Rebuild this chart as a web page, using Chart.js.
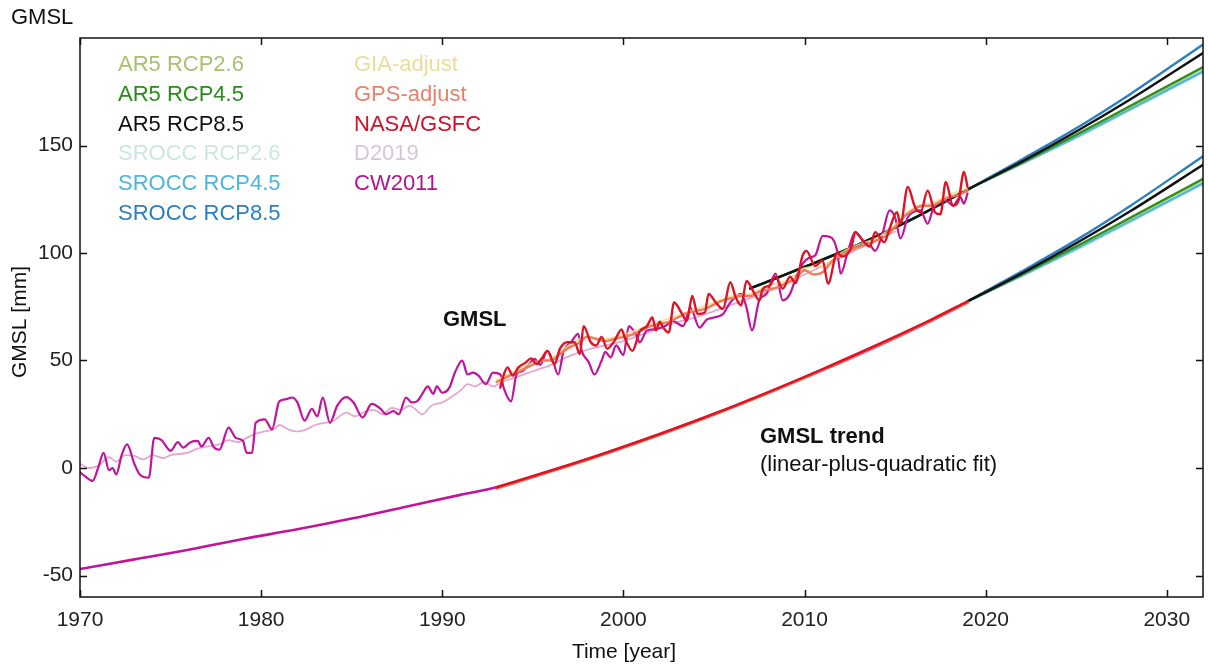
<!DOCTYPE html>
<html><head><meta charset="utf-8">
<script src="https://cdn.jsdelivr.net/npm/chart.js@4/dist/chart.umd.min.js"></script>
<style>html,body{margin:0;padding:0;background:#fff}#wrap{width:1208px;height:665px;position:relative}</style>
</head><body><div id="wrap"><canvas id="c" width="1208" height="665"></canvas></div>
<script>
// ---- tick values ----
const xTicks = [1970, 1980, 1990, 2000, 2010, 2020, 2030];
const yTicks = [-50, 0, 50, 100, 150];

// ---- CW2011 (observed) ----
const cwYears = [1970.0,1970.3,1970.7,1971.0,1971.3,1971.6,1971.8,1972.0,1972.3,1972.6,1973.0,1973.3,1973.8,1974.1,1974.5,1975.0,1975.4,1975.7,1976.1,1976.5,1976.7,1977.1,1977.4,1977.7,1978.2,1978.6,1979.0,1979.2,1979.5,1979.7,1980.2,1980.6,1981.0,1981.4,1981.7,1982.0,1982.4,1982.8,1983.1,1983.4,1983.8,1984.2,1984.7,1985.1,1985.6,1986.1,1986.6,1986.9,1987.3,1987.6,1988.0,1988.3,1988.6,1988.9,1989.2,1989.5,1989.7,1990.0,1990.4,1990.7,1991.1,1991.4,1991.7,1992.0,1992.4,1992.8,1993.2,1993.4,1993.8,1994.1,1994.4,1994.8,1995.1,1995.4,1995.8,1996.1,1996.4,1996.7,1997.1,1997.5,1997.7,1998.1,1998.4,1998.8,1999.0,1999.3,1999.6,2000.0,2000.3,2000.7,2000.9,2001.3,2001.8,2002.3,2002.7,2003.3,2003.7,2004.2,2004.6,2005.0,2005.5,2005.9,2006.5,2006.8,2007.1,2007.5,2007.9,2008.4,2008.8,2009.2,2009.6,2009.9,2010.3,2010.6,2011.0,2011.5,2011.8,2012.0,2012.4,2012.8,2013.2,2013.6,2013.9,2014.3,2014.7,2015.0,2015.3,2015.7,2016.0,2016.4,2016.8,2017.1,2017.5,2017.8,2018.2,2018.6,2018.8,2019.0];
const cwValues = [-2,-4,-6,0,7,-1,0,-3,6,11,2,-3,-4.5,14,13,8,12,9.5,12,12.6,10,14,9.5,8.5,18.8,14,12.6,7,7,21,22.6,18,31,32,32.8,30.5,22,27.5,24,32.8,21,29,33,30.5,23.5,29.8,27.5,25,26.5,25,32.8,30.5,31,34.5,38,34.5,38,35,37.5,44.4,49.9,43.5,44.4,43,39,44.4,43.5,37,31,43.5,45,48.4,50.8,48,54.5,50,43.5,54.5,58.4,62.4,54.5,49,43.5,50,54,51.5,57,52.5,66,62,58.4,64,64.6,66,68.4,66,74.5,65.3,69,70,71.6,77,81,74.5,64,78,81,90.4,78,81,90.4,95,98,99,108,107,101,90.4,101,109.7,106,104,101,109,119.8,116.6,106.8,116.6,119,119.8,113.6,120.6,123.7,124.4,122,126,123,127.7];

// ---- D2019 (observed) ----
const dYears = [1970.0,1970.5,1971.0,1971.6,1972.0,1972.5,1973.0,1973.5,1974.0,1974.6,1975.0,1975.9,1976.5,1977.0,1977.7,1978.2,1978.7,1979.2,1979.7,1980.2,1980.7,1981.0,1981.5,1982.0,1982.5,1983.0,1983.5,1984.0,1984.7,1985.2,1985.7,1986.2,1986.7,1987.2,1987.7,1988.2,1988.9,1989.4,1990.0,1990.5,1991.0,1991.4,1991.8,1992.3,1992.8,1993.3,1994,1995,1996,1997,1998,1999,2000,2001,2002,2003,2004,2005,2006,2007,2008,2009,2010,2011,2012,2013,2014,2015];
const dValues = [2,0,1,5,3,6,5.6,4,6,4.6,6,7,9,10,11,13,12,14,16,17,18,20,18,17,18,20,21,22,25.8,24,26,27,25,28,27,29,25,29,30.5,33,36,39,38,40,38,40,42,45,48,52,55,57,59,62,65,68,70,73,76,79,82,86,90,94,98,102,106,110];

// ---- NASA/GSFC (observed) ----
const nasaYears = [1993.2,1993.4,1993.6,1993.9,1994.2,1994.6,1994.9,1995.2,1995.5,1995.8,1996.2,1996.5,1996.9,1997.3,1997.6,1997.8,1998.2,1998.5,1998.8,1999.1,1999.5,1999.9,2000.1,2000.5,2000.9,2001.3,2001.6,2001.8,2002.0,2002.2,2002.5,2002.8,2003.2,2003.5,2003.8,2004.1,2004.5,2004.7,2005.1,2005.5,2005.9,2006.2,2006.5,2006.8,2007.2,2007.5,2007.7,2008.1,2008.4,2008.8,2009.2,2009.5,2009.9,2010.1,2010.6,2011.0,2011.3,2011.8,2012.1,2012.6,2012.8,2013.2,2013.6,2013.9,2014.4,2014.7,2015.1,2015.3,2015.7,2016.1,2016.4,2016.8,2017.2,2017.5,2017.8,2018.2,2018.5,2018.8,2019.0];
const nasaValues = [37.4,43.5,46.8,43,46.8,49,51,48.4,51,54.5,48.4,55.5,58.5,58.5,53,66,58.5,57,61,55.5,59,64.5,60,54.5,63.5,66,70,64,68,65.3,63,77,72.3,68.4,80,71.6,72.3,81,77,74,86.4,79.4,75.6,87,81.7,78,83.4,85,89,83.4,89,86,99,101,94,96.5,85.7,100,98.3,103,109.7,106,103,109.7,105,111.4,119,113.6,130.7,121.4,119,129,119,118,133,122,124.4,137.7,130.7];

// ---- GPS-adjust (observed) ----
const gpsYears = [1993.0,1993.5,1994.0,1994.5,1995.0,1995.5,1996.0,1996.5,1997.0,1997.5,1998.0,1998.5,1999.0,1999.5,2000.0,2000.5,2001.0,2001.5,2002.0,2002.5,2003.0,2003.5,2004.0,2004.5,2005.0,2005.5,2006.0,2006.5,2007.0,2007.5,2008.0,2008.5,2009.0,2009.5,2010.0,2010.5,2011.0,2011.5,2012.0,2012.5,2013.0,2013.5,2014.0,2014.5,2015.0,2015.5,2016.0,2016.5,2017.0,2017.5,2018.0,2018.5,2019.0];
const gpsValues = [40,42,44,46,48,50,50,53,56,58,61,60,59,60,61,62,64,66,67,68,70,72,73,74,76,78,79,80,80,82,83,84,86,88,92,90,91,96,99,101,103,104,106,108,112,117,120,122,122,124,126,127,129];

// ---- GIA-adjust (observed) ----
const giaYears = [1993,1994,1995,1996,1997,1998,1999,2000,2001,2002,2003,2004,2005,2006,2007,2008,2009,2010,2011,2012,2013,2014,2015,2016,2017,2018,2019];
const giaValues = [41,45,49,51,57,61,60,62,65,68,71,74,77,80,81,85,87,93,94,100,104,107,113,121,123,127,130];

// ---- Trends (linear-plus-quadratic fits) ----
const cwTrendYears = [1970,1973,1976,1979,1982,1985,1988,1991,1993,1996,1999,2002,2005,2008,2011,2014,2017,2019];
const cwTrendValues = [-47,-42.5,-38,-33,-28.5,-23.5,-18,-12.5,-9,-1.4,6.8,15.6,25,35,45.5,56.6,68.5,77];
const altTrendYears = [1993,1996,1999,2002,2005,2008,2011,2014,2017,2019];
const nasaTrendValues = [-9,-1.2,7,15.8,25.2,35.3,46,57.2,69,77.5];
const gpsTrendValues = [-9.5,-1.6,6.6,15.4,24.8,34.9,45.6,56.8,68.6,77];

// ---- Projections ----
const projYearsUp = [2007,2010,2013,2016,2019,2022,2025,2028,2032];
const projYearsLow = [2019,2022,2025,2028,2032];
// lower set (continuing the trend curve)
const lowSROCC85 = [77.5,91.5,106,122,145];
const lowAR585   = [77.5,90.5,104.5,119.5,141];
const lowAR545   = [77.5,90,103,116.5,134.5];
const lowAR526   = [77.5,90,103,116,134];
const lowSROCC45 = [77.5,89.5,102,115,132.5];
const lowSROCC26 = [77.5,89.5,101.5,114.5,132];
// upper set (continuing the GMSL curve)
const upSROCC85 = [83.5,93.5,104,116,129.5,143.5,158,174,197];
const upAR585   = [83.5,93.5,104,116,129.5,142.5,156.5,171.5,193];
const upAR545   = [83.5,93.5,104,116,129.5,142,155,168.5,186.5];
const upAR526   = [83.5,93.5,104,116,129.5,142,155,168,186];
const upSROCC45 = [83.5,93.5,104,116,129.5,141.5,154,167,184.5];
const upSROCC26 = [83.5,93.5,104,116,129.5,141.5,153.5,166.5,184];

// ---- Legend ----
const legendCol1 = ['AR5 RCP2.6','AR5 RCP4.5','AR5 RCP8.5','SROCC RCP2.6','SROCC RCP4.5','SROCC RCP8.5'];
const legendCol2 = ['GIA-adjust','GPS-adjust','NASA/GSFC','D2019','CW2011'];

const C = {
  ar526:'#a9c46a', ar545:'#2f8f1a', ar585:'#111111',
  sr26:'#c6e6e0', sr45:'#4db6dc', sr85:'#2b7fc0',
  gia:'#f0dc8a', gps:'#ee7c5c', nasa:'#dc1426', d2019:'#e6a6d2', cw:'#c0149a'
};
const legendColors1 = ['#a8c070', '#2a8a1a', '#111111', '#cce6e2', '#4db6dc', '#2b7fc0'];
const legendColors2 = ['#ecdc9c', '#e8806a', '#d01028', '#d6c6d6', '#b0148e'];

const FONT = '"Liberation Sans", Arial, Helvetica, sans-serif';

function pts(xs, ys) { return xs.map((x, i) => ({x: x, y: ys[i]})); }
function ds(label, xs, ys, color, width, order, tension) {
  return { label, data: pts(xs, ys), borderColor: color, backgroundColor: color,
    borderWidth: width, pointRadius: 0, fill: false, order: order,
    tension: tension === undefined ? 0 : tension, cubicInterpolationMode: 'monotone',
    borderJoinStyle: 'round', borderCapStyle: 'round' };
}

const datasets = [
  ds('NASA/GSFC', nasaYears, nasaValues, C.nasa, 2.4, 5, 0),
  ds('GPS-adjust', gpsYears, gpsValues, C.gps, 2.4, 6, 0.3),
  ds('GIA-adjust', giaYears, giaValues, 'rgba(240,220,138,0.8)', 2, 7, 0.3),
  ds('CW2011', cwYears, cwValues, C.cw, 2.2, 8, 0),
  ds('D2019', dYears, dValues, C.d2019, 1.8, 9, 0),
  ds('NASA trend', altTrendYears, nasaTrendValues, C.nasa, 2.6, 10, 0.4),
  ds('GPS trend', altTrendYears, gpsTrendValues, C.gps, 3, 11, 0.4),
  ds('CW2011 trend', cwTrendYears, cwTrendValues, C.cw, 2.6, 12, 0.4),
  ds('up AR5 RCP8.5', projYearsUp, upAR585, C.ar585, 2.4, 20, 0.4),
  ds('up AR5 RCP4.5', projYearsUp, upAR545, C.ar545, 2.2, 21, 0.4),
  ds('up AR5 RCP2.6', projYearsUp, upAR526, C.ar526, 2.2, 22, 0.4),
  ds('up SROCC RCP8.5', projYearsUp, upSROCC85, C.sr85, 2.4, 23, 0.4),
  ds('up SROCC RCP4.5', projYearsUp, upSROCC45, C.sr45, 2.4, 24, 0.4),
  ds('up SROCC RCP2.6', projYearsUp, upSROCC26, C.sr26, 2.4, 25, 0.4),
  ds('low AR5 RCP8.5', projYearsLow, lowAR585, C.ar585, 2.4, 30, 0.4),
  ds('low AR5 RCP4.5', projYearsLow, lowAR545, C.ar545, 2.2, 31, 0.4),
  ds('low AR5 RCP2.6', projYearsLow, lowAR526, C.ar526, 2.2, 32, 0.4),
  ds('low SROCC RCP8.5', projYearsLow, lowSROCC85, C.sr85, 2.4, 33, 0.4),
  ds('low SROCC RCP4.5', projYearsLow, lowSROCC45, C.sr45, 2.4, 34, 0.4),
  ds('low SROCC RCP2.6', projYearsLow, lowSROCC26, C.sr26, 2.4, 35, 0.4)
];

const framePlugin = {
  id: 'frame',
  afterDatasetsDraw(chart) {
    const ctx = chart.ctx, a = chart.chartArea;
    const xs = chart.scales.x, ys = chart.scales.y;
    ctx.save();
    ctx.strokeStyle = '#111';
    ctx.lineWidth = 1.5;
    ctx.strokeRect(a.left, a.top, a.right - a.left, a.bottom - a.top);
    const tl = 7;
    ctx.beginPath();
    xTicks.forEach(v => {
      const px = Math.round(xs.getPixelForValue(v)) + 0.5;
      ctx.moveTo(px, a.bottom); ctx.lineTo(px, a.bottom - tl);
      ctx.moveTo(px, a.top); ctx.lineTo(px, a.top + tl);
    });
    yTicks.forEach(v => {
      const py = Math.round(ys.getPixelForValue(v)) + 0.5;
      ctx.moveTo(a.left, py); ctx.lineTo(a.left + tl, py);
      ctx.moveTo(a.right, py); ctx.lineTo(a.right - tl, py);
    });
    ctx.stroke();

    // legend (colored text only)
    ctx.font = '22px ' + FONT;
    ctx.textBaseline = 'middle';
    ctx.textAlign = 'left';
    legendCol1.forEach((t, i) => { ctx.fillStyle = legendColors1[i]; ctx.fillText(t, 118, 65 + i * 29.8); });
    legendCol2.forEach((t, i) => { ctx.fillStyle = legendColors2[i]; ctx.fillText(t, 354, 65 + i * 29.8); });

    // annotations
    ctx.fillStyle = '#111';
    ctx.font = 'bold 22px ' + FONT;
    ctx.fillText('GMSL', 443, 320);
    ctx.fillText('GMSL trend', 760, 437);
    ctx.font = '22px ' + FONT;
    ctx.fillText('(linear-plus-quadratic fit)', 760, 465);

    // titles
    ctx.fillStyle = '#111';
    ctx.font = '22px ' + FONT;
    ctx.fillText('GMSL', 11, 18);
    ctx.textAlign = 'center';
    ctx.font = '21px ' + FONT;
    ctx.fillText('Time [year]', 624, 652);
    ctx.translate(20, 322);
    ctx.rotate(-Math.PI / 2);
    ctx.fillText('GMSL [mm]', 0, 0);
    ctx.restore();
  }
};

new Chart(document.getElementById('c'), {
  type: 'line',
  data: { datasets },
  options: {
    responsive: false,
    animation: false,
    devicePixelRatio: 1,
    layout: { padding: { top: 38, right: 5, left: 0, bottom: 0 } },
    plugins: { legend: { display: false }, tooltip: { enabled: false } },
    scales: {
      x: {
        type: 'linear', min: 1970, max: 2032,
        afterBuildTicks: s => { s.ticks = xTicks.map(v => ({ value: v })); },
        afterFit: s => { s.height = 68; },
        grid: { display: false, drawTicks: false },
        border: { display: false },
        ticks: { callback: v => String(v), color: '#222', padding: 11, maxRotation: 0, autoSkip: false,
                 font: { size: 21, family: FONT } }
      },
      y: {
        type: 'linear', min: -60, max: 200,
        afterBuildTicks: s => { s.ticks = yTicks.map(v => ({ value: v })); },
        afterFit: s => { s.width = 80; },
        grid: { display: false, drawTicks: false },
        border: { display: false },
        ticks: { callback: v => String(v), color: '#222', padding: 7,
                 font: { size: 21, family: FONT } }
      }
    }
  },
  plugins: [framePlugin]
});
</script></body></html>
